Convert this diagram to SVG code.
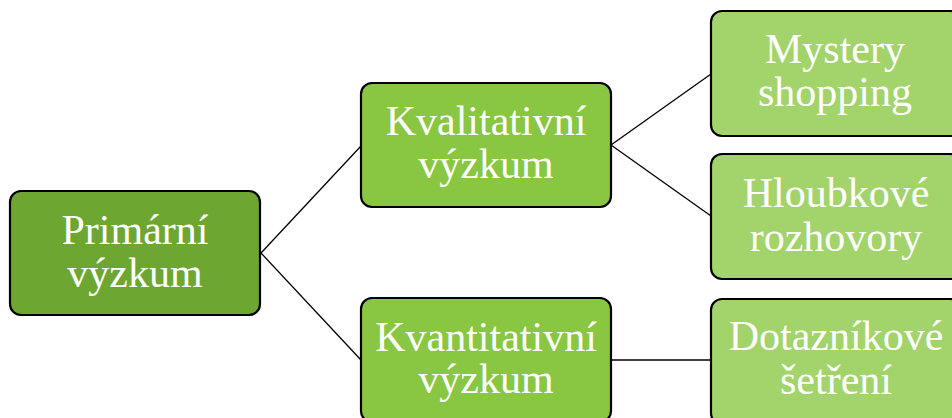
<svg xmlns="http://www.w3.org/2000/svg" width="952" height="418" viewBox="0 0 952 418">
  <style>
    .box { stroke: #000; stroke-width: 2.2; }
    .l1 { fill: #6da732; }
    .l2 { fill: #89c641; }
    .l3 { fill: #a2d46b; }
    .lbl { font-family: "Liberation Serif", "Times New Roman", serif; font-size: 42px; fill: #fff; text-anchor: middle; }
    .conn { stroke: #000; stroke-width: 1.3; fill: none; }
  </style>
  <rect width="952" height="418" fill="#fff"/>

  <!-- connectors -->
  <g id="connectors">
    <line class="conn" x1="261" y1="253" x2="361" y2="146"/>
    <line class="conn" x1="261" y1="253" x2="361" y2="360"/>
    <line class="conn" x1="611" y1="145" x2="711" y2="74"/>
    <line class="conn" x1="611" y1="145" x2="711" y2="216"/>
    <line class="conn" x1="611" y1="360" x2="711" y2="360"/>
  </g>

  <!-- root -->
  <g id="primarni">
    <rect class="box l1" x="10" y="191" width="250" height="124" rx="11"/>
    <text class="lbl" x="135" y="244">Primární</text>
    <text class="lbl" x="135" y="287">výzkum</text>
  </g>

  <!-- second level -->
  <g id="kvalitativni">
    <rect class="box l2" x="361" y="83" width="250" height="124" rx="11"/>
    <text class="lbl" x="486" y="135">Kvalitativní</text>
    <text class="lbl" x="486" y="178">výzkum</text>
  </g>
  <g id="kvantitativni">
    <rect class="box l2" x="361" y="298" width="250" height="124" rx="11"/>
    <text class="lbl" x="486" y="351">Kvantitativní</text>
    <text class="lbl" x="486" y="393">výzkum</text>
  </g>

  <!-- third level -->
  <g id="mystery">
    <rect class="box l3" x="711" y="11" width="250" height="125" rx="11"/>
    <text class="lbl" x="835" y="63">Mystery</text>
    <text class="lbl" x="835" y="106">shopping</text>
  </g>
  <g id="hloubkove">
    <rect class="box l3" x="711" y="154" width="250" height="125" rx="11"/>
    <text class="lbl" x="836" y="207">Hloubkové</text>
    <text class="lbl" x="836" y="251">rozhovory</text>
  </g>
  <g id="dotaznikove">
    <rect class="box l3" x="711" y="299" width="250" height="125" rx="11"/>
    <text class="lbl" x="836" y="350">Dotazníkové</text>
    <text class="lbl" x="836" y="394">šetření</text>
  </g>
</svg>
